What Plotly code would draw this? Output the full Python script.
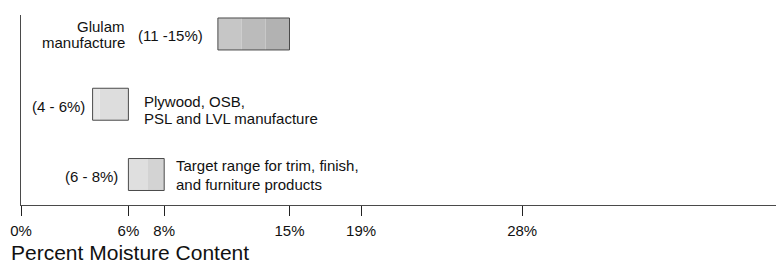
import plotly.graph_objects as go

# ---- data ----
categories = ["Target range", "Plywood/OSB/PSL/LVL", "Glulam"]
low_pct = [6, 4, 11]
high_pct = [8, 6, 15]
range_labels = ["(6 - 8%)", "(4 - 6%)", "(11 -15%)"]
tick_values = [0, 6, 8, 15, 19, 28]
tick_labels = ["0%", "6%", "8%", "15%", "19%", "28%"]
axis_title = "Percent Moisture Content"

# ---- styling ----
W, H = 776, 268
ML, MR, MT, MB = 21, 0, 15, 63
PW, PH = W - ML - MR, H - MT - MB
XMAX = PW / 17.9
YMIN, YMAX = -0.434, 2.27
FONT = "Liberation Sans, Arial, sans-serif"
TXT = "#111111"
EDGE = "#4a4a4a"

# shading stripes per bar: (fraction breaks, colours)
stripes = [
    ([0, 0.53, 1], ["#dfdfdf", "#d3d3d3"]),
    ([0, 0.2, 1], ["#e7e7e7", "#dddddd"]),
    ([0, 1/3, 2/3, 1], ["#c6c6c6", "#bbbbbb", "#b2b2b2"]),
]

fig = go.Figure()
bw = 0.455
for i, cat in enumerate(categories):
    lo, hi = low_pct[i], high_pct[i]
    span = hi - lo
    fr, cols = stripes[i]
    for k in range(len(cols)):
        fig.add_trace(go.Bar(
            y=[cat], base=[lo + fr[k] * span], x=[(fr[k + 1] - fr[k]) * span],
            orientation="h", width=bw, marker=dict(color=cols[k], line=dict(width=0)),
            showlegend=False, hoverinfo="skip"))
# outlines
fig.add_trace(go.Bar(
    y=categories, base=low_pct, x=[h - l for h, l in zip(high_pct, low_pct)],
    orientation="h", width=bw,
    marker=dict(color="rgba(0,0,0,0)", line=dict(color=EDGE, width=1)),
    showlegend=False, hoverinfo="skip"))


def px(xp):
    return (xp - ML) / PW


def py(yp):
    return (MT + PH - yp) / PH


annos = [
    ("Glulam", 127, 26.5, "right"),
    ("manufacture", 127, 42, "right"),
    (range_labels[2], 136, 35, "left"),
    (range_labels[1], 87, 107, "right"),
    ("Plywood, OSB,", 142, 101.5, "left"),
    ("PSL and LVL manufacture", 142, 118, "left"),
    (range_labels[0], 120, 176.5, "right"),
    ("Target range for trim, finish,", 174, 165, "left"),
    ("and furniture products", 174, 184, "left"),
]
for text, x, y, anc in annos:
    fig.add_annotation(text=text, x=px(x), y=py(y), xref="paper", yref="paper",
                       xanchor=anc, yanchor="middle", showarrow=False,
                       font=dict(family=FONT, size=15, color=TXT))

fig.add_annotation(text=axis_title, x=px(9), y=py(253), xref="paper", yref="paper",
                   xanchor="left", yanchor="middle", showarrow=False,
                   font=dict(family=FONT, size=21, color=TXT))

fig.update_layout(
    width=W, height=H,
    margin=dict(l=ML, r=MR, t=MT, b=MB, autoexpand=False),
    paper_bgcolor="white", plot_bgcolor="white", barmode="overlay",
    hovermode=False,
    xaxis=dict(range=[0, XMAX], tickvals=tick_values, ticktext=tick_labels,
               ticks="outside", ticklen=10, tickcolor="#222", tickwidth=1,
               ticklabelstandoff=2,
               showline=True, linecolor=EDGE, linewidth=1, showgrid=False,
               zeroline=False, tickfont=dict(family=FONT, size=15, color=TXT),
               automargin=False, fixedrange=True),
    yaxis=dict(range=[YMIN, YMAX], showline=True, linecolor=EDGE, linewidth=1,
               showticklabels=False, ticks="", showgrid=False, zeroline=False,
               automargin=False, fixedrange=True),
    font=dict(family=FONT),
)
fig.write_html("out.html", config={"displayModeBar": False},
               post_script="document.body.style.margin='0';document.body.style.overflow='hidden';")
